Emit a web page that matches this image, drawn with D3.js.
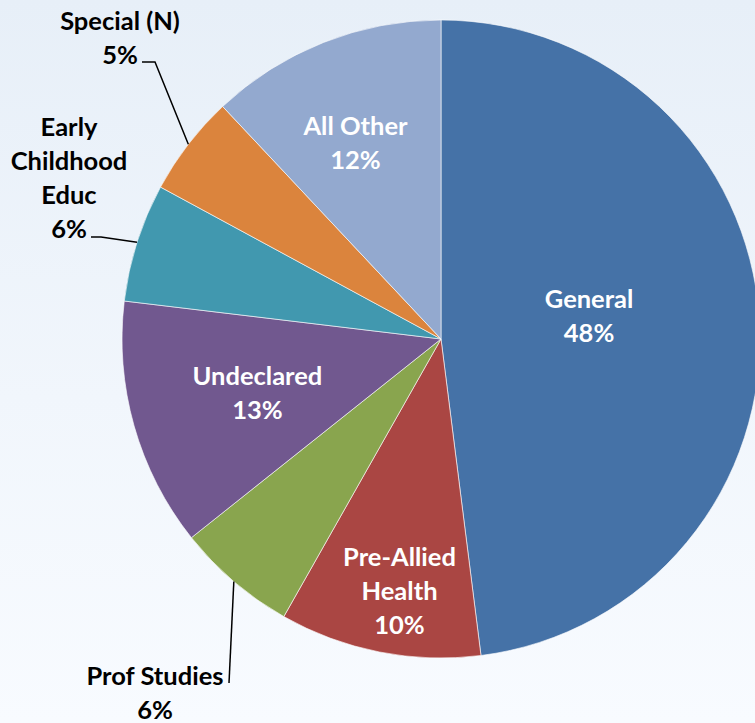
<!DOCTYPE html>
<html>
<head>
<meta charset="utf-8">
<script src="https://cdn.jsdelivr.net/npm/d3@7"></script>
<style>
  html, body { margin: 0; padding: 0; }
  body { width: 755px; height: 723px; overflow: hidden; }
  svg { display: block; }
</style>
</head>
<body>
<svg id="chart" width="755" height="723"></svg>
<script>
// Datos del gráfico (porcentajes)
const categories = ["General", "Pre-Allied Health", "Prof Studies", "Undeclared",
                    "Early Childhood Educ", "Special (N)", "All Other"];
const labelLines = [["General"], ["Pre-Allied", "Health"], ["Prof Studies"], ["Undeclared"],
                    ["Early", "Childhood", "Educ"], ["Special (N)"], ["All Other"]];
const shares = [48.0, 10.2, 6.1, 12.6, 6.0, 5.1, 12.0];
const colors = ["#4572a7", "#aa4643", "#89a54e", "#71588f", "#4198af", "#db843d", "#93a9cf"];

const W = 755, H = 723;
const cx = 441, cy = 339, R = 319;
const fontSize = 25.5, lineH = 34;

const svg = d3.select("#chart");

// fondo degradado
const defs = svg.append("defs");
const grad = defs.append("linearGradient")
    .attr("id", "bg").attr("x1", 0).attr("y1", 0).attr("x2", 0).attr("y2", 1);
grad.append("stop").attr("offset", "0%").attr("stop-color", "#e7eff8");
grad.append("stop").attr("offset", "55%").attr("stop-color", "#f1f6fc");
grad.append("stop").attr("offset", "100%").attr("stop-color", "#f8fbff");
svg.append("rect").attr("width", W).attr("height", H).attr("fill", "url(#bg)");

const pie = d3.pie().sort(null).value(d => d);
const arcs = pie(shares);
const arc = d3.arc().innerRadius(0).outerRadius(R);

const g = svg.append("g").attr("transform", `translate(${cx},${cy})`);

g.selectAll("path.slice")
    .data(arcs)
    .join("path")
    .attr("class", "slice")
    .attr("d", arc)
    .attr("fill", (d, i) => colors[i])
    .attr("stroke", "#ffffff")
    .attr("stroke-opacity", 0.6)
    .attr("stroke-width", 1);

// etiquetas dentro de las porciones: fracción del radio y desvío angular (grados)
const insidePlace = {0: [0.47, -5.4], 1: [0.80, -1.8], 3: [0.60, -0.6], 6: [0.67, -2.0]};

function pct(v) { return Math.round(v) + "%"; }

function textBlock(parent, lines, x, y, fill) {
    const t = parent.append("text")
        .attr("text-anchor", "middle")
        .attr("font-family", "Lato, 'Open Sans', sans-serif")
        .attr("font-weight", "bold")
        .attr("font-size", fontSize)
        .attr("fill", fill);
    const n = lines.length;
    lines.forEach(function (s, k) {
        t.append("tspan")
            .attr("x", x)
            .attr("y", y + (k - (n - 1) / 2) * lineH + 9)
            .text(s);
    });
    return t;
}

arcs.forEach(function (d, i) {
    if (!(i in insidePlace)) return;
    const p = insidePlace[i];
    const a = (d.startAngle + d.endAngle) / 2 + p[1] * Math.PI / 180;
    const r = p[0] * R;
    const x = r * Math.sin(a), y = -r * Math.cos(a);
    textBlock(g, labelLines[i].concat([pct(shares[i])]), x, y, "#ffffff");
});

// etiquetas externas con líneas guía (posiciones absolutas en el svg)
const outside = [
    {i: 2, text: [155, 693], elbow: [229, 683], end: [229, 683]},
    {i: 4, text: [69, 178], elbow: [101, 237], end: [91, 237]},
    {i: 5, text: [120, 38], elbow: [155, 62], end: [142, 62]}
];

outside.forEach(function (o) {
    const d = arcs[o.i];
    const a = (d.startAngle + d.endAngle) / 2;
    const sx = cx + R * Math.sin(a), sy = cy - R * Math.cos(a);
    svg.append("path")
        .attr("d", d3.line()([[sx, sy], o.elbow, o.end]))
        .attr("fill", "none")
        .attr("stroke", "#000000")
        .attr("stroke-width", 1.5);
    textBlock(svg, labelLines[o.i].concat([pct(shares[o.i])]), o.text[0], o.text[1], "#000000");
});
</script>
</body>
</html>
